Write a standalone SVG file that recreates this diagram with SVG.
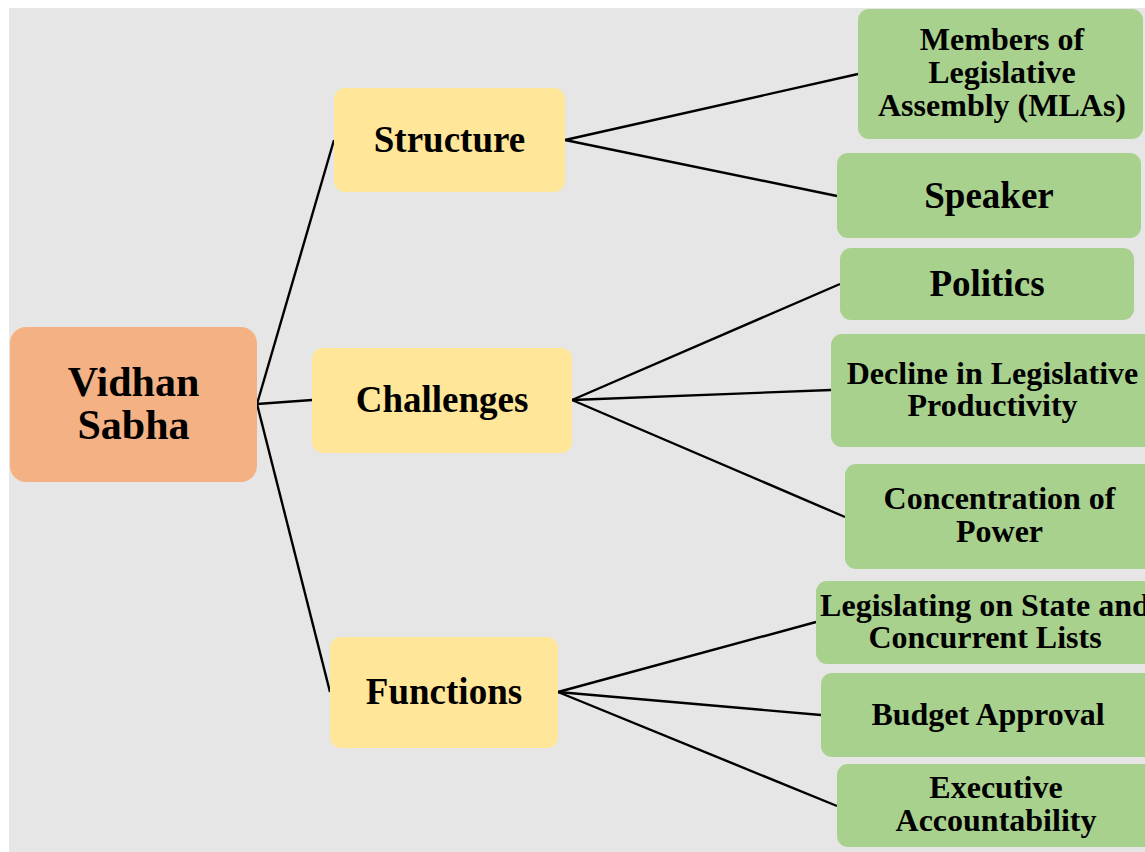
<svg xmlns="http://www.w3.org/2000/svg" width="1145" height="852" viewBox="0 0 1145 852">
<style>
.root{fill:#f4b183}
.mid{fill:#ffe699}
.leaf{fill:#a9d18e}
text{font-family:"Liberation Serif","Times New Roman",serif;font-weight:bold;fill:#000;text-anchor:middle}
.conn line{stroke:#000;stroke-width:2.4}
</style>
<rect x="0" y="0" width="1145" height="852" fill="#ffffff"/>
<rect x="9" y="8" width="1136" height="844" fill="#e6e6e6"/>
<g class="conn">
<line x1="257" y1="404" x2="334" y2="140"/>
<line x1="257" y1="404" x2="312" y2="400"/>
<line x1="257" y1="404" x2="330" y2="692"/>
<line x1="565" y1="140" x2="858" y2="74"/>
<line x1="565" y1="140" x2="837" y2="196"/>
<line x1="572" y1="400" x2="840" y2="284"/>
<line x1="572" y1="400" x2="831" y2="390"/>
<line x1="572" y1="400" x2="845" y2="517"/>
<line x1="558" y1="692" x2="816" y2="622"/>
<line x1="558" y1="692" x2="821" y2="715"/>
<line x1="558" y1="692" x2="837" y2="806"/>
</g>
<g id="vidhan-sabha">
<rect class="root" x="10" y="327" width="247" height="155" rx="16"/>
<text x="133.5" y="396" font-size="42">Vidhan</text>
<text x="133.5" y="439" font-size="42">Sabha</text>
</g>
<g id="structure">
<rect class="mid" x="334" y="88" width="231" height="104" rx="11"/>
<text x="449.5" y="152" font-size="37">Structure</text>
</g>
<g id="challenges">
<rect class="mid" x="312" y="348" width="260" height="105" rx="11"/>
<text x="442" y="412" font-size="37">Challenges</text>
</g>
<g id="functions">
<rect class="mid" x="330" y="637" width="228" height="111" rx="11"/>
<text x="444" y="704" font-size="37">Functions</text>
</g>
<g id="members">
<rect class="leaf" x="858" y="9" width="285" height="130" rx="11"/>
<text x="1002" y="50" font-size="32">Members of</text>
<text x="1002" y="83" font-size="32">Legislative</text>
<text x="1002" y="116" font-size="32">Assembly (MLAs)</text>
</g>
<g id="speaker">
<rect class="leaf" x="837" y="153" width="304" height="85" rx="11"/>
<text x="989" y="208" font-size="37">Speaker</text>
</g>
<g id="politics">
<rect class="leaf" x="840" y="248" width="294" height="72" rx="11"/>
<text x="987" y="296" font-size="37">Politics</text>
</g>
<g id="decline">
<rect class="leaf" x="831" y="334" width="330" height="113" rx="11"/>
<text x="992.5" y="384" font-size="32">Decline in Legislative</text>
<text x="992.5" y="416" font-size="32">Productivity</text>
</g>
<g id="concentration">
<rect class="leaf" x="845" y="464" width="316" height="105" rx="11"/>
<text x="999.5" y="509" font-size="32">Concentration of</text>
<text x="999.5" y="542" font-size="32">Power</text>
</g>
<g id="legislating">
<rect class="leaf" x="816" y="581" width="345" height="83" rx="11"/>
<text x="985" y="616" font-size="32">Legislating on State and</text>
<text x="985" y="648" font-size="32">Concurrent Lists</text>
</g>
<g id="budget">
<rect class="leaf" x="821" y="673" width="340" height="84" rx="11"/>
<text x="988" y="725" font-size="32">Budget Approval</text>
</g>
<g id="executive">
<rect class="leaf" x="837" y="764" width="324" height="83" rx="11"/>
<text x="996" y="798" font-size="32">Executive</text>
<text x="996" y="831" font-size="32">Accountability</text>
</g>
</svg>
